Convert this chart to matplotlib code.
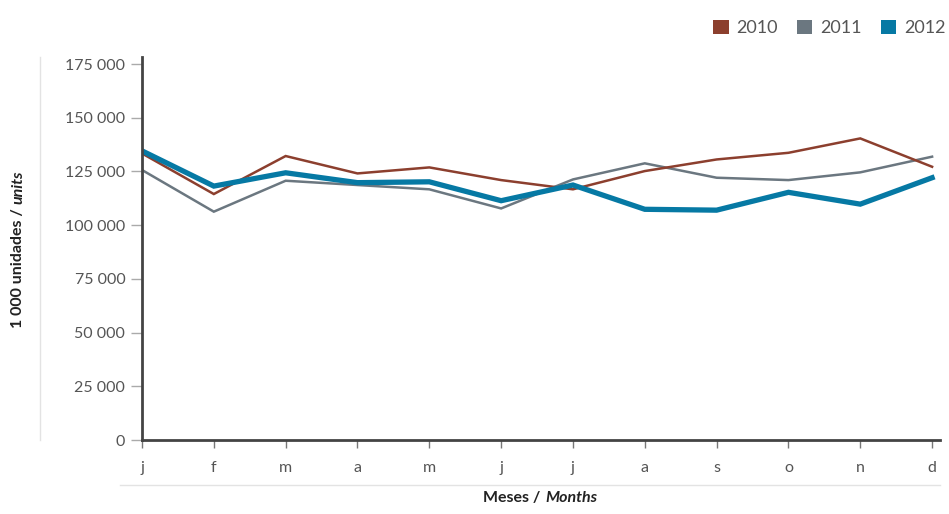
import matplotlib
matplotlib.use("Agg")
import matplotlib.pyplot as plt
from matplotlib.patches import Patch
from matplotlib.lines import Line2D

# Monthly values, 1 000 units
months = ["j", "f", "m", "a", "m", "j", "j", "a", "s", "o", "n", "d"]
y2010 = [133400, 114500, 132200, 124100, 126900, 121000, 116700, 125200, 130600, 133700, 140400, 127200]
y2011 = [125700, 106300, 120700, 118700, 116700, 107800, 121300, 128800, 122100, 121000, 124600, 131900]
y2012 = [134600, 118200, 124400, 119800, 120200, 111400, 118700, 107400, 107000, 115300, 109800, 122100]
yticks = [0, 25000, 50000, 75000, 100000, 125000, 150000, 175000]

c2010 = "#8c3f2e"
c2011 = "#6b7780"
c2012 = "#0679a4"
txt = "#555555"

plt.rcParams["font.family"] = ["Lato", "DejaVu Sans"]

fig = plt.figure(figsize=(9.49, 5.14), dpi=100)
ax = fig.add_axes([142 / 949, 74 / 514, 798 / 949, 383 / 514])

x = list(range(len(months)))
ax.plot(x, y2011, color=c2011, lw=1.8, solid_joinstyle="miter")
ax.plot(x, y2010, color=c2010, lw=1.8, solid_joinstyle="miter")
ax.plot(x, y2012, color=c2012, lw=3.8, solid_joinstyle="miter")

ax.set_xlim(0, 11.11)
ax.set_ylim(0, 178300)
ax.set_xticks(x)
ax.set_xticklabels(months)
ax.set_yticks(yticks)
ax.set_yticklabels([f"{v:,}".replace(",", " ") for v in yticks])

for s in ["top", "right"]:
    ax.spines[s].set_visible(False)
for s in ["left", "bottom"]:
    ax.spines[s].set_color("#444444")
    ax.spines[s].set_linewidth(2)

ax.tick_params(axis="y", length=8, width=1, color="#aaaaaa", labelsize=11.5, labelcolor=txt, pad=4)
ax.tick_params(axis="x", length=6, width=1, color="#777777", labelsize=11.5, labelcolor=txt, pad=9)

# decorative light rules
fig.add_artist(Line2D([40 / 949, 40 / 949], [74 / 514, 457 / 514], color="#e3e3e3", lw=1))
fig.add_artist(Line2D([120 / 949, 940 / 949], [29 / 514, 29 / 514], color="#e3e3e3", lw=1))

# axis titles
fig.text(540 / 949, 9 / 514, "Meses /", ha="right", va="bottom", fontsize=11.5,
         fontweight="bold", color="#222222")
fig.text(545 / 949, 9 / 514, "Months", ha="left", va="bottom", fontsize=11.5,
         fontweight="bold", style="italic", color="#222222")
fig.text(11 / 949, (514 - 208) / 514, "1 000 unidades /", rotation=90,
         ha="left", va="top", fontsize=11.5, fontweight="bold", color="#222222")
fig.text(11 / 949, (514 - 204) / 514, "units", rotation=90, ha="left", va="bottom",
         fontsize=11.5, fontweight="bold", style="italic", color="#222222")

handles = [Patch(facecolor=c2010), Patch(facecolor=c2011), Patch(facecolor=c2012)]
fig.legend(handles, ["2010", "2011", "2012"], loc="upper right", bbox_to_anchor=(1.014, 0.993),
           ncol=3, frameon=False, fontsize=13, handlelength=0.85, handleheight=0.85,
           handletextpad=0.45, columnspacing=1.05, labelcolor=txt)

fig.savefig("out.png", dpi=100)
